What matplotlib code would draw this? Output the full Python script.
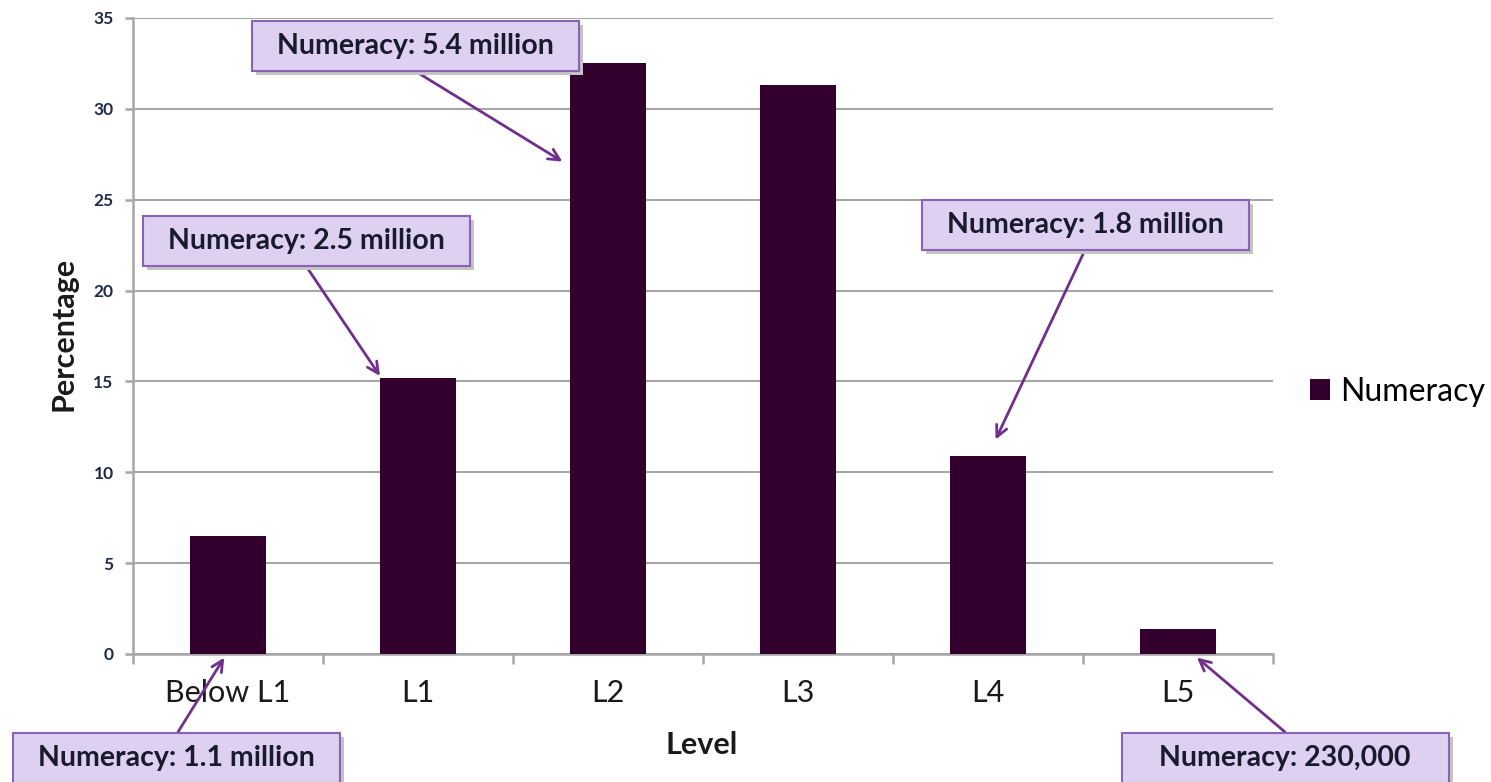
import numpy as np
import matplotlib
matplotlib.use('Agg')
import matplotlib.pyplot as plt
from matplotlib.patches import Rectangle

plt.rcParams['font.family'] = ['Lato', 'DejaVu Sans']

# data
levels = ['Below L1', 'L1', 'L2', 'L3', 'L4', 'L5']
numeracy = [6.5, 15.2, 32.5, 31.3, 10.9, 1.4]

# callouts: text, index of bar, arrow tip (x offset from bar centre, y value)
callout_text = ['Numeracy: 1.1 million', 'Numeracy: 2.5 million', 'Numeracy: 5.4 million',
                'Numeracy: 1.8 million', 'Numeracy: 230,000']
callout_bar = [0, 1, 2, 4, 5]
callout_tip = [(-0.02, -0.2), (-0.2, 15.3), (-0.24, 27.1), (0.04, 11.8), (0.1, -0.2)]
# box centre and arrow start, figure pixels from top-left
callout_box = [(176, 758), (306, 241), (415, 46), (1085, 225), (1285, 758)]
callout_start = [(178, 732), (306, 266), (415, 71), (1085, 250), (1285, 732)]

W, H = 1491, 782
fig = plt.figure(figsize=(W / 100, H / 100), dpi=100)
ax = fig.add_axes([133 / W, 1 - 654 / H, (1273 - 133) / W, (654 - 18) / H])

x = np.arange(len(levels))
bar_col = '#33002e'
grid_col = '#a6a6a6'
ax.bar(x, numeracy, width=0.4, color=bar_col, label='Numeracy', zorder=3)

ax.set_xlim(-0.5, len(levels) - 0.5)
ax.set_ylim(0, 35)
ax.set_yticks(np.arange(0, 36, 5))
ax.yaxis.grid(True, color=grid_col, lw=1.5, zorder=0)
for s in ['top', 'right']:
    ax.spines[s].set_visible(False)
for s in ['left', 'bottom']:
    ax.spines[s].set_color(grid_col)
    ax.spines[s].set_linewidth(1.8)

ax.set_xticks(x)
ax.set_xticklabels(levels, fontsize=22, color='#1a1a1a')
ax.set_xticks(np.arange(-0.5, len(levels)), minor=True)
ax.tick_params(axis='x', which='major', length=0, pad=18)
ax.tick_params(axis='x', which='minor', length=7, width=1.8, color=grid_col)
ax.tick_params(axis='y', length=6, width=1.8, color=grid_col, pad=8,
               labelsize=12.5, labelcolor='#1f2a4a')
for t in ax.get_yticklabels():
    t.set_fontweight('bold')

fig.text(63 / W, 1 - 334 / H, 'Percentage', rotation=90, fontsize=22,
         fontweight='bold', ha='center', va='center', color='#1a1a1a')
fig.text(702 / W, 1 - 745 / H, 'Level', fontsize=22, fontweight='bold',
         ha='center', va='center', color='#1a1a1a')

ax.legend(loc='center left', bbox_to_anchor=(1310 / W, 1 - 392 / H),
          bbox_transform=fig.transFigure, frameon=False, fontsize=23,
          handlelength=0.63, handleheight=0.63, handletextpad=0.3,
          borderpad=0, borderaxespad=0)

# callout boxes with arrows
bw, bh = 327, 50
for txt, bi, tip, box, st in zip(callout_text, callout_bar, callout_tip,
                                 callout_box, callout_start):
    cx, cy = box[0], H - box[1]
    shadow = Rectangle((cx - bw / 2 + 4, cy - bh / 2 - 4), bw, bh,
                       transform=None, facecolor='#c4c4c4', edgecolor='none',
                       zorder=9)
    rect = Rectangle((cx - bw / 2, cy - bh / 2), bw, bh, transform=None,
                     facecolor='#ddd0f0', edgecolor='#8a64b4', lw=1.5, zorder=10)
    fig.patches.extend([shadow, rect])
    fig.text(cx / W, cy / H, txt, fontsize=20.5, fontweight='bold',
             ha='center', va='center', color='#1a1a2e', zorder=11)
    ax.annotate('', xy=(x[bi] + tip[0], tip[1]), xycoords='data',
                xytext=(st[0], H - st[1]), textcoords='figure pixels',
                annotation_clip=False,
                arrowprops=dict(arrowstyle='->,head_length=0.8,head_width=0.4',
                                color='#702f8a', lw=2, shrinkA=0, shrinkB=0),
                zorder=12)

fig.savefig('out.png', dpi=100)
